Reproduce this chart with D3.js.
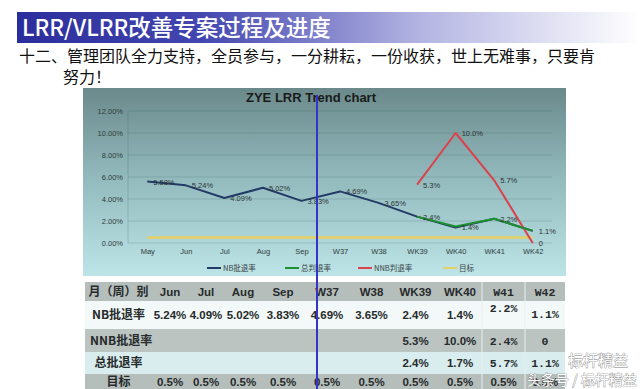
<!DOCTYPE html>
<html><head><meta charset="utf-8">
<script src="https://cdn.jsdelivr.net/npm/d3@7"></script>
<style>body{margin:0;background:#fff;overflow:hidden} svg{display:block}</style>
</head><body><svg id="c" width="640" height="389"></svg>
<script>
// ---------- data ----------
const categories = ["May","Jun","Jul","Aug","Sep","W37","W38","WK39","WK40","WK41","WK42"];
const nbRate    = [5.58,5.24,4.09,5.02,3.83,4.69,3.65,2.4,1.4,2.2,1.1];
const nbLabels  = ["5.58%","5.24%","4.09%","5.02%","3.83%","4.69%","3.65%",null,null,null,null];
const totalRate = [null,null,null,null,null,null,null,2.4,1.5,2.2,1.1];
const totalLabels = [null,null,null,null,null,null,null,"2.4%","1.4%","2.2%","1.1%"];
const nnbRate   = [null,null,null,null,null,null,null,5.3,10.0,5.7,0];
const nnbLabels = [null,null,null,null,null,null,null,"5.3%","10.0%","5.7%","0"];
const targetRate = [0.5,0.5,0.5,0.5,0.5,0.5,0.5,0.5,0.5,0.5,0.5];
const yTicks = [0,2,4,6,8,10,12];
const seriesNames = ["NB批退率","总判退率","NNB判退率","目标"];

const tableHeader = ["月（周）别","Jun","Jul","Aug","Sep","W37","W38","WK39","WK40","W41","W42"];
const rowNames  = ["NB批退率","NNB批退率","总批退率","目标"];
const nbRow     = ["5.24%","4.09%","5.02%","3.83%","4.69%","3.65%","2.4%","1.4%","2.2%","1.1%"];
const nnbRow    = ["","","","","","","5.3%","10.0%","2.4%","0"];
const totalRow  = ["","","","","","","2.4%","1.7%","5.7%","1.1%"];
const targetRow = ["0.5%","0.5%","0.5%","0.5%","0.5%","0.5%","0.5%","0.5%","0.5%","0.5%"];

const mainTitle = "LRR/VLRR改善专案过程及进度";
const subLine1 = "十二、管理团队全力支持，全员参与，一分耕耘，一份收获，世上无难事，只要肯";
const subLine2 = "努力！";
const chartTitle = "ZYE LRR Trend chart";

// ---------- layout ----------
const svg = d3.select("#c");
const defs = svg.append("defs");
const CJK = "'Noto Sans CJK SC','Noto Sans',sans-serif";
const SANS = "'Liberation Sans',Arial,sans-serif";

// title bar
const tg = defs.append("linearGradient").attr("id","tbar").attr("x1","0").attr("x2","1");
tg.append("stop").attr("offset","0").attr("stop-color","#2a2d9c");
tg.append("stop").attr("offset","0.3").attr("stop-color","#4447b0");
tg.append("stop").attr("offset","0.65").attr("stop-color","#b4b5e2");
tg.append("stop").attr("offset","1").attr("stop-color","#ffffff");
svg.append("rect").attr("x",17).attr("y",12).attr("width",623).attr("height",31).attr("fill","url(#tbar)");
svg.append("text").attr("x",22).attr("y",36).attr("font-family",CJK).attr("font-size",22.5)
  .attr("font-weight",500).attr("fill","#fff").text(mainTitle);
svg.append("text").attr("x",19).attr("y",62).attr("font-family",CJK).attr("font-size",16).attr("fill","#111").text(subLine1);
svg.append("text").attr("x",63).attr("y",83).attr("font-family",CJK).attr("font-size",16).attr("fill","#111").text(subLine2);

// chart box
const cg = defs.append("linearGradient").attr("id","cbg").attr("x1","0").attr("x2","0").attr("y1","0").attr("y2","1");
cg.append("stop").attr("offset","0").attr("stop-color","#6b898b");
cg.append("stop").attr("offset","0.5").attr("stop-color","#94bcbf");
cg.append("stop").attr("offset","1").attr("stop-color","#bde4e7");
svg.append("rect").attr("x",83).attr("y",88).attr("width",483).attr("height",188).attr("fill","url(#cbg)");

const x = d3.scalePoint().domain(categories).range([128,552]).padding(0.5);
const y = d3.scaleLinear().domain([0,12]).range([243,111]);

// grid
svg.append("g").selectAll("line").data(yTicks).join("line")
  .attr("x1",128).attr("x2",552).attr("y1",d=>y(d)).attr("y2",d=>y(d))
  .attr("stroke","rgba(40,70,70,0.22)").attr("stroke-width",0.8);
svg.append("line").attr("x1",128).attr("x2",128).attr("y1",y(12)).attr("y2",y(0))
  .attr("stroke","rgba(40,70,70,0.25)").attr("stroke-width",0.8);

// y axis
const yAxis = d3.axisLeft(y).tickValues(yTicks).tickFormat(d=>d3.format(".2f")(d)+"%").tickSize(0).tickPadding(5);
const ya = svg.append("g").attr("transform","translate(128,0)").call(yAxis);
ya.select(".domain").remove();
ya.selectAll("text").attr("font-family",SANS).attr("font-size",7.5).attr("fill","#2f3b3b");

// x axis
const xAxis = d3.axisBottom(x).tickSize(0).tickPadding(6);
const xa = svg.append("g").attr("transform","translate(0,243)").call(xAxis);
xa.select(".domain").remove();
xa.selectAll("text").attr("font-family",SANS).attr("font-size",7.5).attr("fill","#2f3b3b");

// chart title
svg.append("text").attr("x",311).attr("y",102).attr("text-anchor","middle").attr("font-family",SANS)
  .attr("font-weight","bold").attr("font-size",13).attr("fill","#1a1a1a").text(chartTitle);

// lines
const colors = ["#233a66","#1f9030","#d8434c","#e6d062"];
const lineGen = d3.line().defined(d=>d.v!=null).x(d=>x(d.c)).y(d=>y(d.v));
const mk = arr => categories.map((c,i)=>({c, v:arr[i]}));
const drawLine = (arr,col,w) => svg.append("path").datum(mk(arr)).attr("d",lineGen)
  .attr("fill","none").attr("stroke",col).attr("stroke-width",w).attr("stroke-linejoin","round");
drawLine(targetRate,colors[3],2.6);
drawLine(nbRate,colors[0],2);
drawLine(nnbRate,colors[2],2);
drawLine(totalRate,colors[1],2);

// data labels
const drawLabels = (vals,labels) => svg.append("g").selectAll("text")
  .data(categories.map((c,i)=>({c,v:vals[i],t:labels[i]})).filter(d=>d.t!=null)).join("text")
  .attr("x",d=>x(d.c)+6).attr("y",d=>y(d.v)+3).attr("font-family",SANS).attr("font-size",7.5)
  .attr("fill","#2b3333").text(d=>d.t);
drawLabels(nbRate,nbLabels);
drawLabels(totalRate,totalLabels);
drawLabels(nnbRate,nnbLabels);

// legend
const legX = [207,285,358,443];
const lg = svg.append("g").selectAll("g").data(seriesNames).join("g")
  .attr("transform",(d,i)=>`translate(${legX[i]},268)`);
lg.append("line").attr("x1",0).attr("x2",14).attr("y1",0).attr("y2",0)
  .attr("stroke",(d,i)=>colors[i]).attr("stroke-width",2);
lg.append("text").attr("x",16).attr("y",3).attr("font-family",CJK).attr("font-size",7.5)
  .attr("fill","#3a4646").text(d=>d);

// ---------- table ----------
const colEdges = [85,152,188,224,262,304,350,393,438,482,525,565];
const rowBands = [[282,301,"#b6bebc"],[301,329,"#f3f8f8"],[329,352,"#bcc4c2"],[352,374,"#d9ecee"],[374,389,"#b6bebc"]];
svg.append("g").selectAll("rect").data(rowBands).join("rect")
  .attr("x",colEdges[0]).attr("width",colEdges[colEdges.length-1]-colEdges[0])
  .attr("y",d=>d[0]).attr("height",d=>d[1]-d[0]).attr("fill",d=>d[2]);
svg.append("g").selectAll("line").data([colEdges[9],colEdges[10]]).join("line")
  .attr("x1",d=>d).attr("x2",d=>d).attr("y1",282).attr("y2",389).attr("stroke","#e8eeee").attr("stroke-width",1);

const colCenter = i => (colEdges[i]+colEdges[i+1])/2;
const rowsData = [[rowNames[0],...nbRow],[rowNames[1],...nnbRow],[rowNames[2],...totalRow],[rowNames[3],...targetRow]];
const rowY = [319,345,367,386];
const monoCols = new Set([9,10]);

svg.append("g").selectAll("text").data(tableHeader).join("text")
  .attr("x",(d,i)=>colCenter(i)).attr("y",296).attr("text-anchor","middle")
  .attr("font-family",(d,i)=>i===0?CJK:(monoCols.has(i)?"'Liberation Mono',monospace":SANS))
  .attr("font-weight","bold").attr("font-size",(d,i)=>i===0?12:11.5).attr("fill","#262b2b").text(d=>d);

rowsData.forEach((row,r)=>{
  svg.append("g").selectAll("text").data(row).join("text")
    .attr("x",(d,i)=> (i===0 && r===1) ? 90 : colCenter(i))
    .attr("y",(d,i)=> rowY[r] - ((r===0 && i===9)?7:0) - ((r===0 && i===10)?1:0))
    .attr("text-anchor",(d,i)=> (i===0 && r===1) ? "start" : "middle")
    .attr("font-family",(d,i)=> i===0?CJK:((monoCols.has(i)&&r<3)?"'Liberation Mono',monospace":SANS))
    .attr("font-weight","bold").attr("font-size",(d,i)=> i===0?12:11.5)
    .attr("fill","#262b2b").text(d=>d);
});

// pointer line over the slide
svg.append("line").attr("x1",317).attr("x2",317).attr("y1",95).attr("y2",389)
  .attr("stroke","#3434c8").attr("stroke-width",2);

// watermark
const wm = svg.append("g").attr("font-family",CJK).attr("fill","#fff").attr("stroke","#7b7b7b")
  .attr("stroke-width",0.7).attr("paint-order","stroke");
wm.append("text").attr("x",568).attr("y",366).attr("font-size",15).text("标杆精益");
wm.append("text").attr("x",527).attr("y",385).attr("font-size",14).text("头条号 / 标杆精益");
</script></body></html>
